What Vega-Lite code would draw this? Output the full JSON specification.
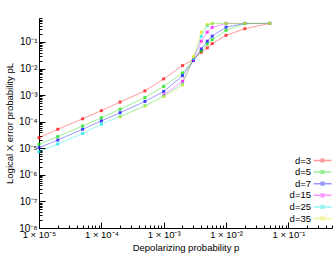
{
  "$schema": "https://vega.github.io/schema/vega-lite/v6.json",
  "width": 293,
  "height": 210,
  "autosize": "none",
  "padding": {"left": 39, "top": 18, "right": 2, "bottom": 27},
  "background": "white",
  "config": {
    "view": {"stroke": null},
    "font": "Liberation Sans",
    "axis": {"domainColor": "#000", "tickColor": "#000", "labelColor": "#000", "titleColor": "#000", "labelFont": "Liberation Sans", "titleFont": "Liberation Sans", "titleFontWeight": "normal", "labelFontSize": 10, "titleFontSize": 9.5, "grid": false}
  },
  "data": {"values": [
    {"p": 1e-5, "pl": 2.5e-5, "d": "d=3"},
    {"p": 2e-5, "pl": 5.2e-5, "d": "d=3"},
    {"p": 5e-5, "pl": 1.29e-4, "d": "d=3"},
    {"p": 1e-4, "pl": 2.6e-4, "d": "d=3"},
    {"p": 2e-4, "pl": 5.5e-4, "d": "d=3"},
    {"p": 5e-4, "pl": 1.45e-3, "d": "d=3"},
    {"p": 1e-3, "pl": 4.1e-3, "d": "d=3"},
    {"p": 2e-3, "pl": 1.29e-2, "d": "d=3"},
    {"p": 3e-3, "pl": 2.2e-2, "d": "d=3"},
    {"p": 4e-3, "pl": 4.1e-2, "d": "d=3"},
    {"p": 5e-3, "pl": 6.0e-2, "d": "d=3"},
    {"p": 6e-3, "pl": 8.7e-2, "d": "d=3"},
    {"p": 1e-2, "pl": 0.178, "d": "d=3"},
    {"p": 2e-2, "pl": 0.316, "d": "d=3"},
    {"p": 5e-2, "pl": 0.5, "d": "d=3"},
    {"p": 1e-5, "pl": 1.41e-5, "d": "d=5"},
    {"p": 2e-5, "pl": 2.75e-5, "d": "d=5"},
    {"p": 5e-5, "pl": 6.9e-5, "d": "d=5"},
    {"p": 1e-4, "pl": 1.41e-4, "d": "d=5"},
    {"p": 2e-4, "pl": 2.95e-4, "d": "d=5"},
    {"p": 5e-4, "pl": 8.1e-4, "d": "d=5"},
    {"p": 1e-3, "pl": 2.14e-3, "d": "d=5"},
    {"p": 2e-3, "pl": 6.8e-3, "d": "d=5"},
    {"p": 3e-3, "pl": 2.2e-2, "d": "d=5"},
    {"p": 4e-3, "pl": 4.5e-2, "d": "d=5"},
    {"p": 5e-3, "pl": 8.5e-2, "d": "d=5"},
    {"p": 6e-3, "pl": 0.123, "d": "d=5"},
    {"p": 1e-2, "pl": 0.275, "d": "d=5"},
    {"p": 2e-2, "pl": 0.49, "d": "d=5"},
    {"p": 5e-2, "pl": 0.5, "d": "d=5"},
    {"p": 1e-5, "pl": 1.05e-5, "d": "d=7"},
    {"p": 2e-5, "pl": 2.04e-5, "d": "d=7"},
    {"p": 5e-5, "pl": 5.2e-5, "d": "d=7"},
    {"p": 1e-4, "pl": 1.07e-4, "d": "d=7"},
    {"p": 2e-4, "pl": 2.19e-4, "d": "d=7"},
    {"p": 5e-4, "pl": 5.8e-4, "d": "d=7"},
    {"p": 1e-3, "pl": 1.38e-3, "d": "d=7"},
    {"p": 2e-3, "pl": 5.4e-3, "d": "d=7"},
    {"p": 3e-3, "pl": 2.0e-2, "d": "d=7"},
    {"p": 4e-3, "pl": 5.5e-2, "d": "d=7"},
    {"p": 5e-3, "pl": 0.107, "d": "d=7"},
    {"p": 6e-3, "pl": 0.166, "d": "d=7"},
    {"p": 1e-2, "pl": 0.363, "d": "d=7"},
    {"p": 2e-2, "pl": 0.5, "d": "d=7"},
    {"p": 5e-2, "pl": 0.5, "d": "d=7"},
    {"p": 1e-3, "pl": 1.02e-3, "d": "d=15"},
    {"p": 2e-3, "pl": 3.3e-3, "d": "d=15"},
    {"p": 3e-3, "pl": 2.2e-2, "d": "d=15"},
    {"p": 4e-3, "pl": 0.107, "d": "d=15"},
    {"p": 5e-3, "pl": 0.234, "d": "d=15"},
    {"p": 6e-3, "pl": 0.355, "d": "d=15"},
    {"p": 1e-2, "pl": 0.5, "d": "d=15"},
    {"p": 2e-2, "pl": 0.5, "d": "d=15"},
    {"p": 5e-2, "pl": 0.5, "d": "d=15"},
    {"p": 1e-5, "pl": 7.4e-6, "d": "d=25"},
    {"p": 2e-5, "pl": 1.45e-5, "d": "d=25"},
    {"p": 5e-5, "pl": 3.6e-5, "d": "d=25"},
    {"p": 1e-4, "pl": 8.1e-5, "d": "d=25"},
    {"p": 2e-4, "pl": 1.58e-4, "d": "d=25"},
    {"p": 5e-4, "pl": 4.0e-4, "d": "d=25"},
    {"p": 1e-3, "pl": 9.3e-4, "d": "d=25"},
    {"p": 2e-3, "pl": 2.6e-3, "d": "d=25"},
    {"p": 3e-3, "pl": 2.4e-2, "d": "d=25"},
    {"p": 4e-3, "pl": 0.162, "d": "d=25"},
    {"p": 5e-3, "pl": 0.417, "d": "d=25"},
    {"p": 6e-3, "pl": 0.5, "d": "d=25"},
    {"p": 1e-2, "pl": 0.5, "d": "d=25"},
    {"p": 2e-2, "pl": 0.5, "d": "d=25"},
    {"p": 5e-2, "pl": 0.5, "d": "d=25"},
    {"p": 2e-4, "pl": 1.51e-4, "d": "d=35"},
    {"p": 5e-4, "pl": 3.9e-4, "d": "d=35"},
    {"p": 1e-3, "pl": 8.9e-4, "d": "d=35"},
    {"p": 2e-3, "pl": 2.45e-3, "d": "d=35"},
    {"p": 3e-3, "pl": 2.8e-2, "d": "d=35"},
    {"p": 4e-3, "pl": 0.234, "d": "d=35"},
    {"p": 5e-3, "pl": 0.457, "d": "d=35"},
    {"p": 6e-3, "pl": 0.5, "d": "d=35"},
    {"p": 1e-2, "pl": 0.5, "d": "d=35"},
    {"p": 2e-2, "pl": 0.5, "d": "d=35"},
    {"p": 5e-2, "pl": 0.5, "d": "d=35"}
  ]},
  "encoding": {
    "x": {
      "field": "p", "type": "quantitative",
      "scale": {"type": "log", "domain": [1e-5, 0.5], "nice": false},
      "axis": {
        "title": "Depolarizing probability p",
        "titlePadding": 1,
        "labelFontSize": 9.5,
        "values": [1e-5,2e-5,3e-5,4e-5,5e-5,6e-5,7e-5,8e-5,9e-5,1e-4,2e-4,3e-4,4e-4,5e-4,6e-4,7e-4,8e-4,9e-4,1e-3,2e-3,3e-3,4e-3,5e-3,6e-3,7e-3,8e-3,9e-3,1e-2,2e-2,3e-2,4e-2,5e-2,6e-2,7e-2,8e-2,9e-2,1e-1,2e-1,3e-1,4e-1,5e-1],
        "labelExpr": "abs(log(datum.value)/LN10 - round(log(datum.value)/LN10)) < 0.001 ? '1 × 10' + ['⁰','⁻¹','⁻²','⁻³','⁻⁴','⁻⁵'][-round(log(datum.value)/LN10)] : ''",
        "tickSize": {"condition": {"test": "abs(log(datum.value)/LN10 - round(log(datum.value)/LN10)) < 0.001", "value": -6}, "value": -3},
        "labelPadding": 7,
        "labelFlush": false,
        "labelOverlap": false
      }
    },
    "y": {
      "field": "pl", "type": "quantitative",
      "scale": {"type": "log", "domain": [1e-8, 0.8], "nice": false},
      "axis": {
        "title": "Logical X error probability pL",
        "titlePadding": 4,
        "values": [1e-8,2e-8,3e-8,4e-8,5e-8,6e-8,7e-8,8e-8,9e-8,1e-7,2e-7,3e-7,4e-7,5e-7,6e-7,7e-7,8e-7,9e-7,1e-6,2e-6,3e-6,4e-6,5e-6,6e-6,7e-6,8e-6,9e-6,1e-5,2e-5,3e-5,4e-5,5e-5,6e-5,7e-5,8e-5,9e-5,1e-4,2e-4,3e-4,4e-4,5e-4,6e-4,7e-4,8e-4,9e-4,1e-3,2e-3,3e-3,4e-3,5e-3,6e-3,7e-3,8e-3,9e-3,1e-2,2e-2,3e-2,4e-2,5e-2,6e-2,7e-2,8e-2,9e-2,1e-1,2e-1,3e-1,4e-1,5e-1,6e-1,7e-1,8e-1],
        "labelExpr": "abs(log(datum.value)/LN10 - round(log(datum.value)/LN10)) < 0.001 ? '10' + ['⁰','⁻¹','⁻²','⁻³','⁻⁴','⁻⁵','⁻⁶','⁻⁷','⁻⁸'][-round(log(datum.value)/LN10)] : ''",
        "tickSize": {"condition": {"test": "abs(log(datum.value)/LN10 - round(log(datum.value)/LN10)) < 0.001", "value": -6}, "value": -3},
        "labelPadding": 8,
        "labelFlush": false,
        "labelOverlap": false
      }
    },
    "color": {
      "field": "d", "type": "nominal",
      "scale": {"domain": ["d=3","d=5","d=7","d=15","d=25","d=35"], "range": ["#ff0000","#00dd00","#0000ff","#ff00ff","#00e5e5","#e5e500"]},
      "legend": {
        "title": null,
        "orient": "none",
        "legendX": 278,
        "legendY": 137,
        "symbolType": "M-2,0H2M-0.3,-0.3H0.3V0.3H-0.3Z",
        "symbolSize": 80,
        "rowPadding": 1.6,
        "labelAlign": "right",
        "labelOffset": -17,
        "labelFontSize": 9.5,
        "labelFont": "Liberation Sans",
        "labelColor": "#000",
        "encode": {"symbols": {"update": {"stroke": {"scale": "color", "field": "value"}, "fill": {"scale": "color", "field": "value"}, "strokeWidth": {"value": 1}, "opacity": {"value": 0.5}}}}
      }
    }
  },
  "layer": [
    {"mark": {"type": "line", "strokeWidth": 1, "opacity": 0.4}, "encoding": {"detail": {"field": "d"}}},
    {"mark": {"type": "point", "shape": "square", "size": 9, "filled": true, "opacity": 0.7}}
  ]
}
